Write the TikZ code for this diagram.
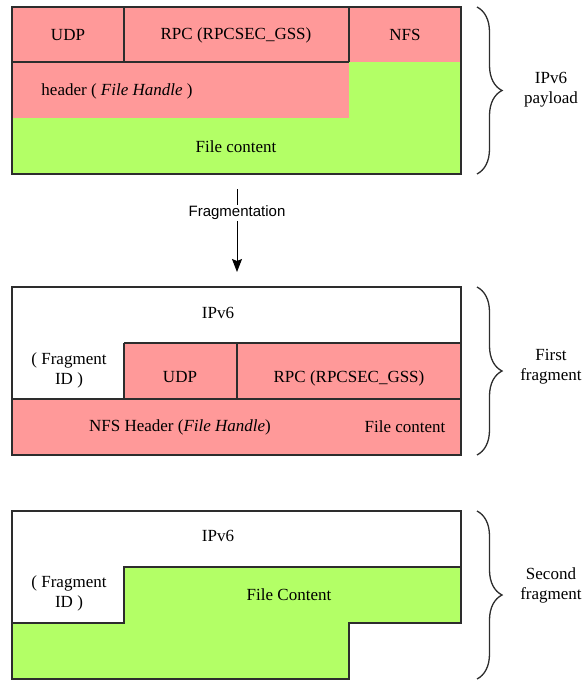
\documentclass[tikz,border=0pt]{standalone}
\usepackage{fontspec}
\setmainfont{Liberation Serif}
\setsansfont{Liberation Sans}
\usetikzlibrary{decorations.pathreplacing,arrows.meta}

\definecolor{hdrpink}{RGB}{255,153,153}
\definecolor{datagreen}{RGB}{179,255,102}
\definecolor{edgegray}{RGB}{45,45,45}

\tikzset{
    wall/.style={draw=edgegray, line width=1.3pt},
    txt/.style={font=\fontsize{17}{20}\selectfont, align=center, inner sep=0pt},
    sidebrace/.style={decorate, decoration={brace, amplitude=25pt}, draw=edgegray, line width=1.3pt},
    flow/.style={draw=black, line width=1pt, -{Stealth[length=13pt, width=10pt, inset=2pt]}},
}

\begin{document}
\begin{tikzpicture}[x=1pt, y=-1pt]
    \useasboundingbox (0,0) rectangle (584,680);

    % payload
    \fill[datagreen] (12,7) rectangle (461,174);
    \fill[hdrpink] (12,7) rectangle (461,62);
    \fill[hdrpink] (12,62) rectangle (349,118);
    \draw[wall] (12,62) -- (349,62) (124,7) -- (124,62) (349,7) -- (349,62);
    \draw[wall] (12,7) rectangle (461,174);
    \node[txt] (udpA) at (68,35) {UDP};
    \node[txt] (rpcA) at (236,35) {RPC (RPCSEC\_GSS)};
    \node[txt] (nfsA) at (405,35) {NFS};
    \node[txt] (hdrA) at (117,91) {header ( \textit{File Handle} )};
    \node[txt] (dataA) at (236,147) {File content};
    \draw[sidebrace] (477,7) -- (477,174);
    \node[txt] (payload) at (551,90) {IPv6\\payload};

    % fragmentation
    \coordinate (fragfrom) at (237,189);
    \coordinate (fragto) at (237,272);
    \draw[flow] (fragfrom) -- node[pos=0.29, fill=white, inner sep=1pt, font=\sffamily\fontsize{15}{17}\selectfont] (fraglbl) {Fragmentation} (fragto);

    % first fragment
    \fill[hdrpink] (124,343) rectangle (461,455);
    \fill[hdrpink] (12,399) rectangle (124,455);
    \draw[wall] (124,343) -- (461,343) (124,343) -- (124,399) (237,343) -- (237,399) (12,399) -- (461,399);
    \draw[wall] (12,287) rectangle (461,455);
    \node[txt] (ipB) at (218,313) {IPv6};
    \node[txt] (fidB) at (69,370) {( Fragment\\ID )};
    \node[txt] (udpB) at (180,377) {UDP};
    \node[txt] (rpcB) at (349,378) {RPC (RPCSEC\_GSS)};
    \node[txt] (hdrB) at (180,427) {NFS Header (\textit{File Handle})};
    \node[txt] (dataB) at (405,427) {File content};
    \draw[sidebrace] (477,287) -- (477,455);
    \node[txt] (firstfrag) at (551,367) {First\\fragment};

    % second fragment
    \fill[datagreen] (124,567) -- (461,567) -- (461,623) -- (349,623) -- (349,679) -- (12,679) -- (12,623) -- (124,623) -- cycle;
    \draw[wall] (12,623) -- (124,623) -- (124,567) -- (461,567);
    \draw[wall] (12,511) -- (461,511) -- (461,623) -- (349,623) -- (349,679) -- (12,679) -- cycle;
    \node[txt] (ipC) at (218,536) {IPv6};
    \node[txt] (fidC) at (69,593) {( Fragment\\ID )};
    \node[txt] (dataC) at (289,595) {File Content};
    \draw[sidebrace] (477,511) -- (477,679);
    \node[txt] (secondfrag) at (551,585) {Second\\fragment};
\end{tikzpicture}
\end{document}
